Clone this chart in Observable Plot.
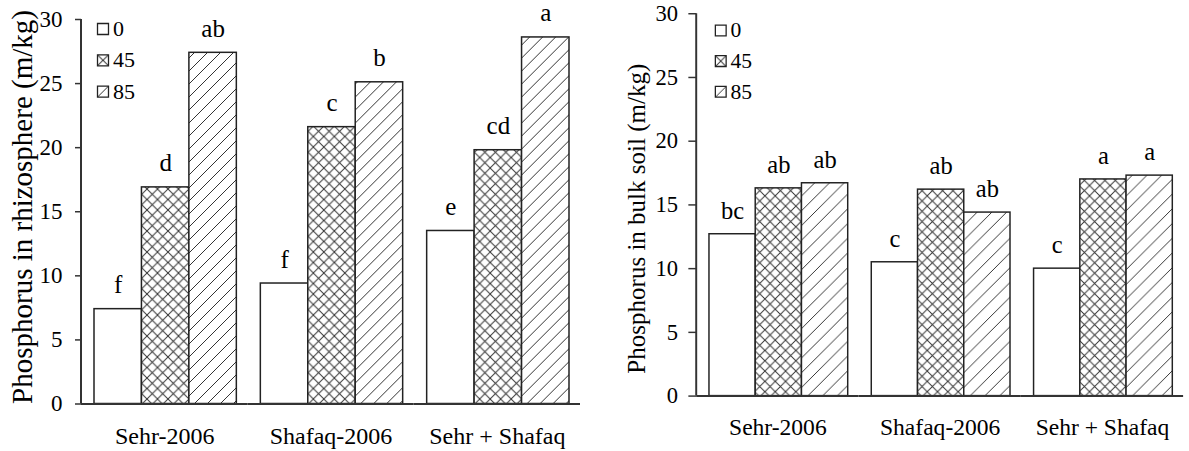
<!DOCTYPE html>
<html><head><meta charset="utf-8">
<script src="https://cdn.jsdelivr.net/npm/d3@7"></script>
<script src="https://cdn.jsdelivr.net/npm/@observablehq/plot@0.6"></script>
<style>
html,body{margin:0;padding:0;background:#fff;overflow:hidden}
#wrap{position:relative;width:1189px;height:451px;overflow:hidden;background:#fff}
#left,#right{position:absolute;top:0}
#left{left:0}
#right{left:600px}
#wrap svg, #wrap svg text{font-family:'Liberation Serif','Times New Roman',serif !important}
</style></head><body>
<div id="wrap"><div id="left"></div><div id="right"></div></div>
<script>
const groups = ["Sehr-2006", "Shafaq-2006", "Sehr + Shafaq"];
const treatments = ["0", "45", "85"];
const yTicks = [0, 5, 10, 15, 20, 25, 30];

// Phosphorus in rhizosphere (m/kg)
const rhizo0  = [7.4, 9.4, 13.5];
const rhizo45 = [16.9, 21.6, 19.8];
const rhizo85 = [27.4, 25.1, 28.6];
const rhizoLetters0  = ["f", "f", "e"];
const rhizoLetters45 = ["d", "c", "cd"];
const rhizoLetters85 = ["ab", "b", "a"];

// Phosphorus in bulk soil (m/kg)
const bulk0  = [12.7, 10.5, 10.0];
const bulk45 = [16.3, 16.2, 17.0];
const bulk85 = [16.7, 14.4, 17.3];
const bulkLetters0  = ["bc", "c", "c"];
const bulkLetters45 = ["ab", "ab", "a"];
const bulkLetters85 = ["ab", "ab", "a"];

const serif = "'Liberation Serif','Times New Roman',serif";

function rows(series, letters) {
  return groups.flatMap((g, i) => treatments.map((t, j) => ({g, t, v: series[j][i], label: letters[j][i]})));
}

function chart(cfg) {
  const data = rows(cfg.series, cfg.letters);
  const id = cfg.id;
  const fills = {"0": "white", "45": `url(#${id}-cross)`, "85": `url(#${id}-hatch)`};
  const anchor = [{g: groups[0]}];
  const marks = [];
  for (const t of treatments) {
    marks.push(Plot.barY(data.filter(d => d.t === t), {fx: "g", x: "t", y: "v", fill: fills[t], stroke: "#222", strokeWidth: 1.5}));
  }
  marks.push(Plot.text(data, {fx: "g", x: "t", y: "v", text: "label", lineAnchor: "bottom", dy: -16, fontSize: 25, fontFamily: serif, fill: "black"}));
  marks.push(Plot.ruleY([0], {stroke: "#333", strokeWidth: 2}));
  marks.push(Plot.axisY({ticks: yTicks, tickSize: cfg.tickSize, tickPadding: cfg.tickPadding, fontSize: 23, fontFamily: serif, tickFormat: d => String(d), label: null, stroke: "#333", strokeWidth: 1.5}));
  marks.push(Plot.axisFx({anchor: "bottom", tickSize: 0, tickPadding: 23, fontSize: 24, fontFamily: serif, label: null}));
  treatments.forEach((t, i) => {
    marks.push(Plot.dot(anchor, {fx: "g", frameAnchor: "top-left", dx: cfg.legX, dy: cfg.legY + i * cfg.legStep, symbol: "square", r: 6.2, fill: fills[t], stroke: "#222", strokeWidth: 1.3}));
    marks.push(Plot.text(anchor, {fx: "g", frameAnchor: "top-left", dx: cfg.legX + 10, dy: cfg.legY + i * cfg.legStep, text: () => t, textAnchor: "start", lineAnchor: "middle", fontSize: 22, fontFamily: serif, fill: "black"}));
  });
  marks.push(Plot.text(anchor, {fx: "g", frameAnchor: "left", text: () => cfg.title, rotate: -90, dx: cfg.titleDx, dy: cfg.titleDy, fontSize: cfg.titleSize, fontFamily: serif, lineAnchor: "middle", textAnchor: "middle", fill: "black"}));

  const svg = Plot.plot({
    width: 600,
    height: 451,
    marginLeft: cfg.marginLeft,
    marginRight: cfg.marginRight,
    marginTop: cfg.marginTop,
    marginBottom: cfg.marginBottom,
    style: {fontFamily: serif, fontSize: "23px", color: "black", background: "white"},
    fx: {domain: groups, padding: 0, round: false, label: null},
    x: {domain: treatments, padding: 0, round: false, insetLeft: cfg.insetLeft, insetRight: cfg.insetRight, axis: null},
    y: {domain: [0, 30], label: null},
    marks
  });
  const s = d3.select(svg);
  s.selectAll("text").style("font-family", serif);
  const c = 10.5, h = cfg.hatch;
  const defs = s.insert("defs", ":first-child");
  const pc = defs.append("pattern").attr("id", `${id}-cross`).attr("patternUnits", "userSpaceOnUse").attr("width", c).attr("height", c);
  pc.append("rect").attr("width", c).attr("height", c).attr("fill", "white");
  pc.append("path").attr("d", `M-1,-1L${c + 1},${c + 1}M${c + 1},-1L-1,${c + 1}`).attr("stroke", "#333").attr("stroke-width", 1).attr("fill", "none");
  const ph = defs.append("pattern").attr("id", `${id}-hatch`).attr("patternUnits", "userSpaceOnUse").attr("width", h).attr("height", h);
  ph.append("rect").attr("width", h).attr("height", h).attr("fill", "white");
  ph.append("path").attr("d", `M0,${h}L${h},0M${-h / 4},${h / 4}L${h / 4},${-h / 4}M${h * 3 / 4},${h * 5 / 4}L${h * 5 / 4},${h * 3 / 4}`).attr("stroke", "#333").attr("stroke-width", 1).attr("fill", "none");
  const y = svg.scale("y");
  s.append("line").attr("x1", cfg.marginLeft).attr("x2", cfg.marginLeft)
    .attr("y1", y.apply(0)).attr("y2", y.apply(30)).attr("stroke", "#333").attr("stroke-width", 2);
  return svg;
}

document.getElementById("left").append(chart({
  id: "rz", series: [rhizo0, rhizo45, rhizo85], letters: [rhizoLetters0, rhizoLetters45, rhizoLetters85],
  title: "Phosphorus in rhizosphere (m/kg)",
  marginLeft: 81, marginRight: 20, marginTop: 19, marginBottom: 47.5,
  tickSize: 6, tickPadding: 13, insetLeft: 13, insetRight: 11,
  legX: 21.5, legY: 9.5, legStep: 31.3, titleDx: -59, titleDy: -4.75, titleSize: 29, hatch: 13
}));
document.getElementById("right").append(chart({
  id: "bk", series: [bulk0, bulk45, bulk85], letters: [bulkLetters0, bulkLetters45, bulkLetters85],
  title: "Phosphorus in bulk soil (m/kg)",
  marginLeft: 98, marginRight: 6, marginTop: 13.5, marginBottom: 48,
  tickSize: 8, tickPadding: 11, insetLeft: 13, insetRight: 11,
  legX: 24.5, legY: 17, legStep: 31.25, titleDx: -61, titleDy: 14, titleSize: 25.5, hatch: 15
}));
</script>
</body></html>
